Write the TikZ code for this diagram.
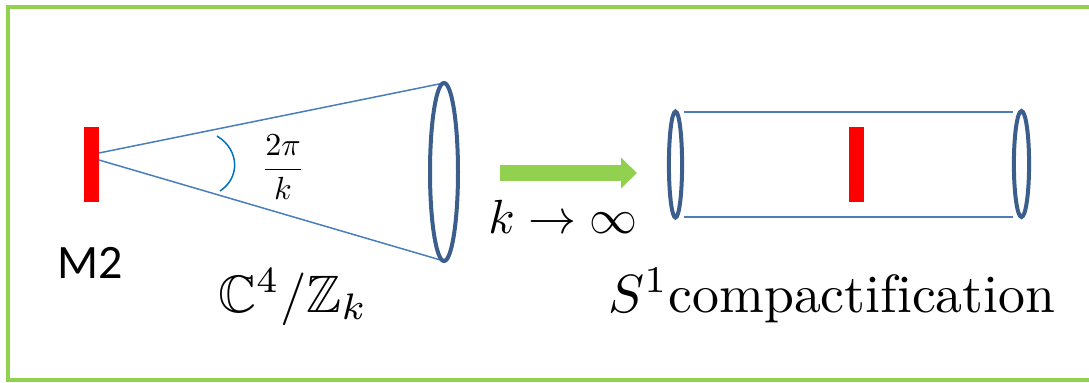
\documentclass[tikz,border=0pt]{standalone}
\usepackage{amssymb}
\usepackage{graphicx}
\usepackage{fontspec}
\newfontfamily\calibri{Carlito}
\usetikzlibrary{arrows.meta}
\definecolor{framegreen}{HTML}{92D050}
\definecolor{ringblue}{HTML}{3B5E8C}
\definecolor{lineblue}{HTML}{4A7EBB}
\definecolor{arcblue}{HTML}{0070C0}
\begin{document}
\begin{tikzpicture}[
        x=0.5pt, y=-0.5pt,
        brane/.style={fill=red, draw=none, inner sep=0pt, minimum width=7.5pt, minimum height=37.5pt},
        ring/.style={draw=ringblue, line width=2pt},
        wall/.style={draw=lineblue, line width=0.75pt},
        limit/.style={-{Triangle[length=8pt, width=15pt]}, line width=8pt, framegreen},
        mathtext/.style={inner sep=0pt, anchor=base west}
    ]
        \useasboundingbox (0,0) rectangle (1089,382);
        % Frame
        \draw[framegreen, line width=2pt] (1089,7) -- (8,7) -- (8,380) -- (1089,380);

        % Cone over C^4/Z_k
        \node[brane] (m2) at (91.5,164.5) {};
        \coordinate (apexup) at (99,153);
        \coordinate (apexdn) at (99,160);
        \coordinate (cone) at (444,172);
        \coordinate (conetop) at (444,83);
        \coordinate (conebot) at (444,261);
        \draw[wall] (apexup) -- (conetop);
        \draw[wall] (apexdn) -- (conebot);
        \draw[ring] (cone) ellipse [x radius=7pt, y radius=44.5pt];
        \coordinate (arcstart) at (217,136);
        \coordinate (arcend) at (220,191);
        \draw[arcblue, line width=0.75pt] (arcstart) .. controls (240,150) and (240,178) .. (arcend);
        \node[inner sep=0pt] (angle) at (283,167) {\scalebox{1.6}{$\displaystyle\frac{2\pi}{k}$}};
        \node[font=\calibri\fontsize{24}{28}\selectfont, anchor=base west, inner sep=0pt] (m2label) at (57,278) {M2};
        \node[mathtext] (orbifold) at (218,312) {\resizebox{74.5pt}{!}{$\mathbb{C}^4/\mathbb{Z}_k$}};

        % Limit arrow
        \coordinate (limitfrom) at (500,173);
        \coordinate (limitto) at (637,173);
        \draw[limit] (limitfrom) -- (limitto);
        \node[mathtext] (klimit) at (488,233) {\resizebox{74.5pt}{!}{$k\to\infty$}};

        % Cylinder
        \coordinate (ringl) at (675.5,164.5);
        \coordinate (ringr) at (1021.5,164);
        \coordinate (topl) at (684,112);
        \coordinate (topr) at (1013,112);
        \coordinate (botl) at (684,217);
        \coordinate (botr) at (1013,217);
        \draw[wall] (topl) -- (topr);
        \draw[wall] (botl) -- (botr);
        \draw[ring] (ringl) ellipse [x radius=3.3pt, y radius=26.5pt];
        \draw[ring] (ringr) ellipse [x radius=3.8pt, y radius=26.5pt];
        \node[brane] (m2b) at (856.5,164.5) {};
        \node[mathtext] (circle) at (608,312) {\resizebox{223.5pt}{!}{$S^1\mathrm{compactification}$}};
    \end{tikzpicture}
\end{document}
